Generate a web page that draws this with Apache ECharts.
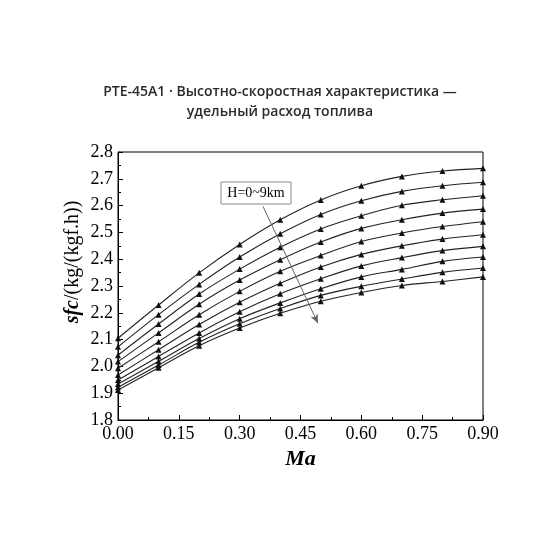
<!DOCTYPE html>
<html>
<head>
<meta charset="utf-8">
<script src="https://cdn.jsdelivr.net/npm/echarts@6/dist/echarts.min.js"></script>
<style>html,body{margin:0;padding:0;background:#fff;}#c{width:560px;height:560px;}</style>
</head>
<body>
<div id="c"></div>
<script>
// Mach numbers
var ma = [0, 0.1, 0.2, 0.3, 0.4, 0.5, 0.6, 0.7, 0.8, 0.9];
// sfc per altitude H = 0..9 km
var h0 = [2.105, 2.229, 2.349, 2.455, 2.547, 2.621, 2.674, 2.709, 2.729, 2.739];
var h1 = [2.073, 2.193, 2.306, 2.408, 2.495, 2.567, 2.618, 2.653, 2.674, 2.687];
var h2 = [2.042, 2.158, 2.270, 2.363, 2.445, 2.513, 2.562, 2.601, 2.622, 2.637];
var h3 = [2.018, 2.125, 2.232, 2.322, 2.398, 2.464, 2.515, 2.547, 2.572, 2.587];
var h4 = [1.993, 2.092, 2.193, 2.280, 2.355, 2.414, 2.466, 2.498, 2.522, 2.540];
var h5 = [1.968, 2.062, 2.156, 2.239, 2.310, 2.371, 2.418, 2.450, 2.475, 2.491];
var h6 = [1.949, 2.037, 2.125, 2.204, 2.271, 2.327, 2.375, 2.406, 2.432, 2.448];
var h7 = [1.934, 2.019, 2.104, 2.178, 2.237, 2.290, 2.334, 2.362, 2.392, 2.408];
var h8 = [1.922, 2.005, 2.090, 2.159, 2.216, 2.265, 2.299, 2.326, 2.351, 2.367];
var h9 = [1.912, 1.995, 2.077, 2.143, 2.198, 2.243, 2.276, 2.302, 2.317, 2.334];
var seriesNames = ['H=0km','H=1km','H=2km','H=3km','H=4km','H=5km','H=6km','H=7km','H=8km','H=9km'];
var allSeries = [h0, h1, h2, h3, h4, h5, h6, h7, h8, h9];
// annotation arrow (data coordinates)
var arrowStart = [0.3575, 2.597];
var arrowEnd = [0.493, 2.161];
var annotationText = 'H=0~9km';
var titleText = 'PTE-45A1 · Высотно-скоростная характеристика —\nудельный расход топлива';

var serif = '"Liberation Serif", "Times New Roman", serif';
var chart = echarts.init(document.getElementById('c'), null, {renderer: 'canvas'});

var series = allSeries.map(function (vals, i) {
  var s = {
    name: seriesNames[i],
    type: 'line',
    smooth: 0.35,
    data: ma.map(function (m, j) { return [m, vals[j]]; }),
    symbol: 'triangle',
    symbolSize: 6,
    itemStyle: {color: '#111'},
    lineStyle: {color: '#222', width: 1.1},
    clip: false,
    z: 3
  };
  if (i === 0) {
    s.markLine = {
      silent: true,
      symbol: ['none', 'arrow'],
      symbolSize: [6, 9],
      label: {show: false},
      lineStyle: {color: '#666', width: 1, type: 'solid'},
      data: [[{coord: arrowStart}, {coord: arrowEnd}]],
      animation: false
    };
  }
  return s;
});

var option = {
  animation: false,
  backgroundColor: '#fff',
  title: {
    text: titleText,
    left: 'center',
    top: 77,
    textStyle: {fontFamily: '"Open Sans", "Noto Sans", sans-serif', fontSize: 14, fontWeight: 600, color: '#2b2b2b', lineHeight: 20}
  },
  grid: {left: 118, right: 77, top: 152, bottom: 140, show: true, borderColor: '#000', borderWidth: 1, backgroundColor: 'transparent'},
  xAxis: {
    type: 'value', min: 0, max: 0.9, interval: 0.15,
    name: 'Ma', nameLocation: 'middle', nameGap: 28,
    nameTextStyle: {fontFamily: serif, fontSize: 22, fontWeight: 'bold', fontStyle: 'italic', color: '#000'},
    axisLine: {lineStyle: {color: '#000', width: 1}},
    axisTick: {inside: true, length: 5, lineStyle: {color: '#000'}},
    minorTick: {show: true, splitNumber: 2, length: 3, lineStyle: {color: '#000'}},
    splitLine: {show: false},
    axisLabel: {fontFamily: serif, fontSize: 18, color: '#000', margin: 5, formatter: function (v) { return v.toFixed(2); }}
  },
  yAxis: {
    type: 'value', min: 1.8, max: 2.8, interval: 0.1,
    axisLine: {show: true, lineStyle: {color: '#000', width: 1}},
    axisTick: {show: true, inside: true, length: 5, lineStyle: {color: '#000'}},
    minorTick: {show: true, splitNumber: 2, length: 3, lineStyle: {color: '#000'}},
    splitLine: {show: false},
    axisLabel: {fontFamily: serif, fontSize: 18, color: '#000', margin: 5, formatter: function (v) { return v.toFixed(1); }}
  },
  graphic: [
    {
      type: 'text',
      x: 73, y: 262,
      rotation: Math.PI / 2,
      style: {
        text: '{a|sfc}{b|/(kg/(kgf.h))}',
        align: 'center', verticalAlign: 'middle',
        rich: {
          a: {fontFamily: serif, fontSize: 20, fontWeight: 'bold', fontStyle: 'italic', fill: '#000'},
          b: {fontFamily: serif, fontSize: 20, fill: '#000'}
        }
      }
    },
    {
      type: 'rect',
      shape: {x: 221, y: 182, width: 70, height: 22},
      style: {fill: '#fff', stroke: '#8a8a8a', lineWidth: 1},
      z: 10
    },
    {
      type: 'text',
      x: 256, y: 193,
      style: {text: annotationText, fontFamily: serif, fontSize: 14, fill: '#000', align: 'center', verticalAlign: 'middle'},
      z: 11
    }
  ],
  series: series
};
chart.setOption(option);
</script>
</body>
</html>
